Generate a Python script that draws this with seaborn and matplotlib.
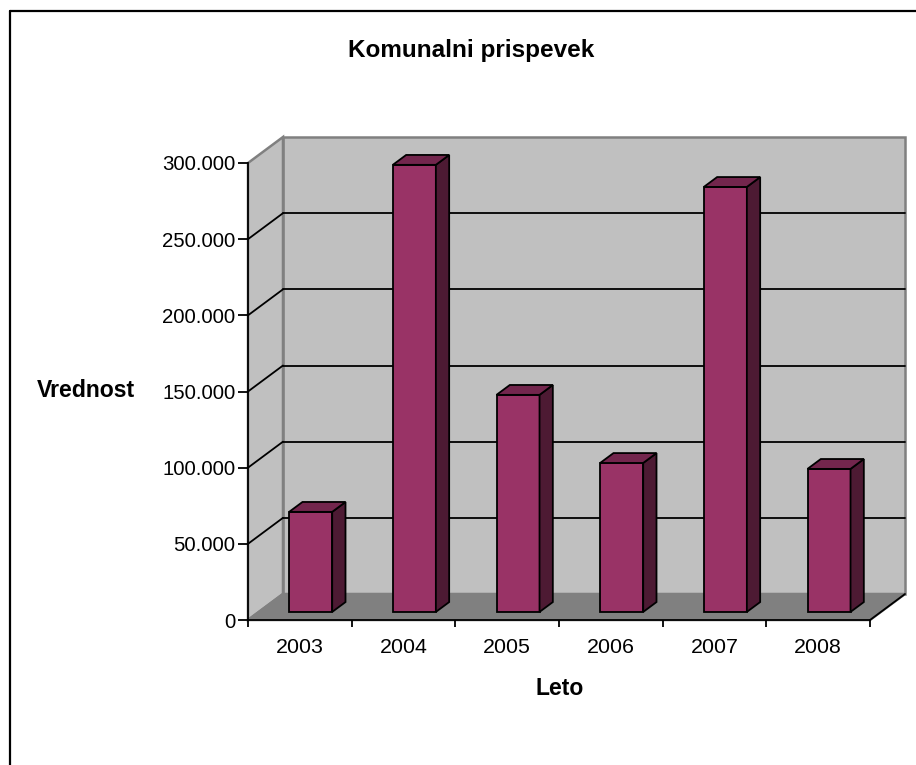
import numpy as np
import matplotlib
matplotlib.use("Agg")
import matplotlib.pyplot as plt
import seaborn as sns
from matplotlib.patches import Polygon
from matplotlib.lines import Line2D
from matplotlib.ticker import FuncFormatter, FixedLocator

# data
years = ["2003", "2004", "2005", "2006", "2007", "2008"]
values = [65700, 293500, 142500, 97800, 279000, 93900]
y_ticks = [0, 50000, 100000, 150000, 200000, 250000, 300000]

title = "Komunalni prispevek"
x_title = "Leto"
y_title = "Vrednost"

sns.set_style("white")
plt.rcParams['font.family'] = ['Liberation Sans', 'DejaVu Sans']
plt.rcParams['text.color'] = 'black'
plt.rcParams['xtick.labelcolor'] = 'black'
plt.rcParams['ytick.labelcolor'] = 'black'

W, H = 916, 765
fig = plt.figure(figsize=(W / 100, H / 100), dpi=100)
ax = fig.add_axes([248 / W, 1 - 620 / H, 622 / W, 457 / H])
ax.patch.set_visible(False)

ymax = y_ticks[-1]
xmin, xmax = -0.5, len(years) - 0.5

# bars (front faces) via seaborn
sns.barplot(x=years, y=values, color='#993366', saturation=1, width=0.415,
            edgecolor='black', linewidth=1.3, ax=ax, zorder=3)
ax.set_xlim(xmin, xmax)
ax.set_ylim(0, ymax)

# depth of the 3d box in data units
dx = 35 / (622 / len(years))
dy = 26 * ymax / 457
f1, f2 = 0.31, 0.69
ddx, ddy = (f2 - f1) * dx, (f2 - f1) * dy

bars = list(ax.containers[0])
for p in bars:
    x0, w, h = p.get_x(), p.get_width(), p.get_height()
    xl = x0 + f1 * dx
    yb = f1 * dy
    p.set_x(xl)
    p.set_y(yb)
    p.set_clip_on(False)
    xr, yt = xl + w, yb + h
    side = Polygon([(xr, yb), (xr + ddx, yb + ddy), (xr + ddx, yt + ddy), (xr, yt)],
                   closed=True, fc='#4d1a33', ec='black', lw=1.3, zorder=3, clip_on=False)
    top = Polygon([(xl, yt), (xr, yt), (xr + ddx, yt + ddy), (xl + ddx, yt + ddy)],
                  closed=True, fc='#73264d', ec='black', lw=1.3, zorder=3, clip_on=False)
    ax.add_patch(side)
    ax.add_patch(top)

# walls and floor
wall_kw = dict(closed=True, ec='#808080', lw=1.8, clip_on=False, zorder=0.5)
ax.add_patch(Polygon([(xmin + dx, dy), (xmax + dx, dy), (xmax + dx, ymax + dy), (xmin + dx, ymax + dy)],
                     fc='#c0c0c0', **wall_kw))
ax.add_patch(Polygon([(xmin, 0), (xmin + dx, dy), (xmin + dx, ymax + dy), (xmin, ymax)],
                     fc='#c0c0c0', **wall_kw))
ax.add_patch(Polygon([(xmin, 0), (xmax, 0), (xmax + dx, dy), (xmin + dx, dy)],
                     fc='#808080', **wall_kw))
ax.add_line(Line2D([xmax, xmax + dx], [0, dy], color='black', lw=1.3, clip_on=False, zorder=1))

# gridlines on back and side wall
for t in y_ticks[1:-1]:
    ax.add_line(Line2D([xmin + dx, xmax + dx], [t + dy, t + dy], color='black', lw=1.3,
                       clip_on=False, zorder=1))
    ax.add_line(Line2D([xmin, xmin + dx], [t, t + dy], color='black', lw=1.3,
                       clip_on=False, zorder=1))

# axes, ticks
for s in ['top', 'right']:
    ax.spines[s].set_visible(False)
for s in ['left', 'bottom']:
    ax.spines[s].set_color('black')
    ax.spines[s].set_linewidth(1.3)
    ax.spines[s].set_zorder(4)

ax.yaxis.set_major_locator(FixedLocator(y_ticks))
ax.yaxis.set_major_formatter(FuncFormatter(lambda v, pos: f"{v:,.0f}".replace(",", ".")))
ax.set_xticks(range(len(years)))
ax.set_xticklabels(years)
ax.set_xticks(np.arange(xmin, xmax + 0.5, 1), minor=True)
ax.tick_params(axis='x', which='major', bottom=True, length=0, pad=13, labelsize=15.4,
               labelcolor='black')
ax.tick_params(axis='x', which='minor', bottom=True, length=5, width=1.3, color='black',
               direction='out')
ax.tick_params(axis='y', which='major', left=True, length=7, width=1.3, color='black',
               direction='out', pad=2, labelsize=14.7, labelcolor='black')
ax.set_xlabel("")
ax.set_ylabel("")

# titles
fig.text(471 / W, 1 - 57 / H, title, ha='center', va='baseline', fontsize=17.5,
         fontweight='bold', color='black')
fig.text(37 / W, 1 - 397 / H, y_title, ha='left', va='baseline', fontsize=16.6,
         fontweight='bold', color='black')
fig.text(559.5 / W, 1 - 695 / H, x_title, ha='center', va='baseline', fontsize=16.5,
         fontweight='bold', color='black')

# chart border (left and top edges visible in the crop)
fig.add_artist(Line2D([9.5 / W, 9.5 / W], [0, 1 - 11 / H], transform=fig.transFigure,
                      color='black', lw=1.6))
fig.add_artist(Line2D([9.5 / W, 1], [1 - 11 / H, 1 - 11 / H], transform=fig.transFigure,
                      color='black', lw=1.6))

fig.savefig("out.png", dpi=100)
